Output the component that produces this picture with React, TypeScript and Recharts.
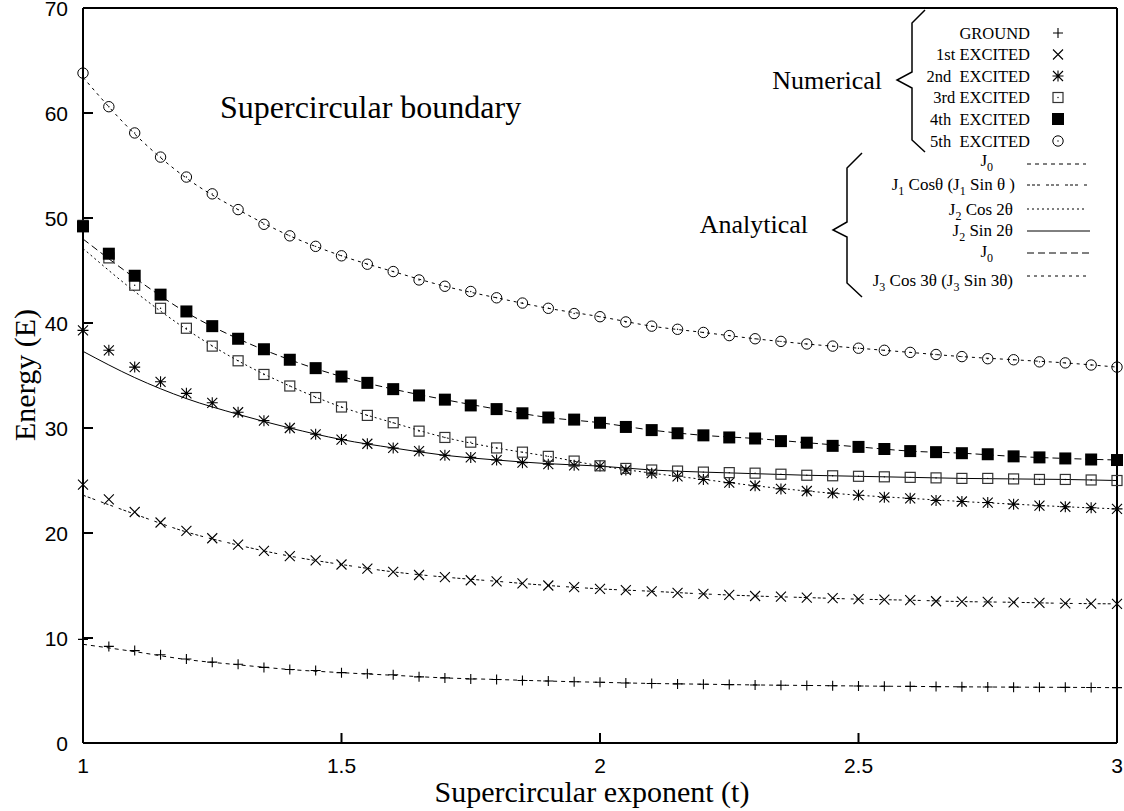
import React from "react";
import { ComposedChart, Line, Scatter, XAxis, YAxis } from "recharts";

// supercircular exponent, numerical samples
const tGrid = [
  1, 1.05, 1.1, 1.15, 1.2, 1.25, 1.3, 1.35, 1.4, 1.45, 1.5, 1.55, 1.6, 1.65, 1.7, 1.75, 1.8, 1.85, 1.9, 1.95, 2,
  2.05, 2.1, 2.15, 2.2, 2.25, 2.3, 2.35, 2.4, 2.45, 2.5, 2.55, 2.6, 2.65, 2.7, 2.75, 2.8, 2.85, 2.9, 2.95, 3,
];

const ground = [
  9.87, 9.2, 8.8, 8.4, 8.0, 7.7, 7.5, 7.2, 7.0, 6.9, 6.7, 6.6, 6.5, 6.3, 6.2, 6.1, 6.05, 5.95, 5.9, 5.83, 5.78,
  5.72, 5.67, 5.63, 5.6, 5.56, 5.53, 5.5, 5.48, 5.45, 5.43, 5.41, 5.39, 5.37, 5.35, 5.34, 5.32, 5.31, 5.3, 5.28, 5.27,
];
const first = [
  24.6, 23.2, 22.0, 21.0, 20.2, 19.5, 18.9, 18.3, 17.8, 17.4, 17.0, 16.6, 16.3, 16.0, 15.8, 15.5, 15.4, 15.2, 15.0,
  14.85, 14.68, 14.55, 14.45, 14.3, 14.2, 14.1, 14.0, 13.95, 13.85, 13.8, 13.7, 13.65, 13.6, 13.5, 13.47, 13.43, 13.4,
  13.35, 13.3, 13.28, 13.25,
];
const second = [
  39.3, 37.4, 35.8, 34.4, 33.3, 32.4, 31.5, 30.7, 30.0, 29.4, 28.9, 28.5, 28.1, 27.8, 27.4, 27.2, 26.95, 26.7, 26.55,
  26.45, 26.37, 26.0, 25.7, 25.4, 25.1, 24.8, 24.5, 24.2, 24.0, 23.8, 23.6, 23.4, 23.3, 23.1, 23.0, 22.9, 22.75, 22.6,
  22.5, 22.4, 22.3,
];
const third = [
  49.3, 46.2, 43.6, 41.4, 39.5, 37.8, 36.4, 35.1, 34.0, 32.9, 32.0, 31.2, 30.5, 29.7, 29.1, 28.65, 28.1, 27.7, 27.3,
  26.85, 26.4, 26.15, 26.0, 25.9, 25.8, 25.75, 25.7, 25.6, 25.5, 25.45, 25.4, 25.35, 25.3, 25.25, 25.2, 25.2, 25.15,
  25.1, 25.1, 25.05, 25.0,
];
const fourth = [
  49.2, 46.6, 44.5, 42.7, 41.1, 39.7, 38.5, 37.5, 36.5, 35.7, 34.9, 34.3, 33.7, 33.1, 32.7, 32.15, 31.8, 31.4, 31.0,
  30.8, 30.5, 30.1, 29.8, 29.5, 29.3, 29.1, 29.0, 28.75, 28.6, 28.3, 28.2, 28.0, 27.8, 27.7, 27.6, 27.5, 27.3, 27.2,
  27.1, 27.0, 26.95,
];
const fifth = [
  63.8, 60.6, 58.1, 55.8, 53.9, 52.3, 50.8, 49.4, 48.3, 47.3, 46.4, 45.6, 44.9, 44.1, 43.5, 43.0, 42.4, 41.9, 41.4,
  40.9, 40.6, 40.1, 39.7, 39.4, 39.1, 38.8, 38.5, 38.25, 38.0, 37.8, 37.6, 37.4, 37.2, 37.0, 36.8, 36.6, 36.5, 36.3,
  36.2, 36.0, 35.8,
];

// analytical curves
const tCurve = [1, 1.1, 1.2, 1.3, 1.4, 1.5, 1.6, 1.7, 1.8, 1.9, 2, 2.1, 2.2, 2.3, 2.4, 2.5, 2.6, 2.7, 2.8, 2.9, 3];
const j0Ground = [9.4, 8.7, 7.95, 7.45, 7.0, 6.7, 6.45, 6.2, 6.05, 5.9, 5.78, 5.67, 5.6, 5.53, 5.48, 5.43, 5.39, 5.35, 5.32, 5.3, 5.27];
const j1 = [23.6, 21.8, 20.1, 18.85, 17.8, 17.0, 16.3, 15.8, 15.4, 15.0, 14.68, 14.45, 14.2, 14.0, 13.85, 13.7, 13.6, 13.47, 13.4, 13.3, 13.25];
const j2Cos = [47.1, 43.0, 39.4, 36.4, 34.0, 32.0, 30.5, 29.1, 28.1, 27.3, 26.4, 25.7, 25.1, 24.5, 24.0, 23.6, 23.3, 23.0, 22.75, 22.5, 22.3];
const j2Sin = [37.3, 34.8, 32.8, 31.3, 30.0, 28.9, 28.1, 27.4, 26.95, 26.6, 26.37, 26.0, 25.8, 25.65, 25.5, 25.4, 25.3, 25.2, 25.15, 25.1, 25.0];
const j0Second = [48.0, 44.3, 41.0, 38.5, 36.5, 34.9, 33.7, 32.7, 31.8, 31.0, 30.5, 29.8, 29.3, 29.0, 28.6, 28.2, 27.8, 27.6, 27.3, 27.1, 26.95];
const j3 = [63.4, 58.0, 53.8, 50.8, 48.3, 46.4, 44.9, 43.5, 42.4, 41.4, 40.6, 39.7, 39.1, 38.5, 38.0, 37.6, 37.2, 36.8, 36.5, 36.2, 35.8];

const xTicks = [1, 1.5, 2, 2.5, 3];
const yTicks = [0, 10, 20, 30, 40, 50, 60, 70];

const SERIF = "'Liberation Serif', 'Times New Roman', serif";
const SANS = "'Liberation Sans', Arial, sans-serif";
const TICK = 10;

const rows = (ts: number[], vs: number[]) => ts.map((t, i) => ({ t, e: vs[i] }));

// point shapes
const PlusMark = ({ cx, cy }: any) => (
  <path d={`M${cx - 5} ${cy}H${cx + 5}M${cx} ${cy - 5}V${cy + 5}`} stroke="#000" strokeWidth={1.1} fill="none" />
);
const CrossMark = ({ cx, cy }: any) => (
  <path
    d={`M${cx - 5} ${cy - 5}L${cx + 5} ${cy + 5}M${cx - 5} ${cy + 5}L${cx + 5} ${cy - 5}`}
    stroke="#000"
    strokeWidth={1.1}
    fill="none"
  />
);
const StarMark = ({ cx, cy }: any) => (
  <path
    d={`M${cx - 5.5} ${cy}H${cx + 5.5}M${cx} ${cy - 5.5}V${cy + 5.5}M${cx - 5} ${cy - 5}L${cx + 5} ${cy + 5}M${cx - 5} ${cy + 5}L${cx + 5} ${cy - 5}`}
    stroke="#000"
    strokeWidth={1.1}
    fill="none"
  />
);
const OpenSquare = ({ cx, cy }: any) => (
  <g>
    <rect x={cx - 5} y={cy - 5} width={10} height={10} stroke="#333" strokeWidth={1.2} fill="none" />
    <circle cx={cx} cy={cy} r={0.7} fill="#000" />
  </g>
);
const FilledSquare = ({ cx, cy }: any) => <rect x={cx - 6} y={cy - 6} width={12} height={12} fill="#000" />;
const OpenCircle = ({ cx, cy }: any) => (
  <g>
    <circle cx={cx} cy={cy} r={5.2} stroke="#000" strokeWidth={1} fill="none" />
    <circle cx={cx} cy={cy} r={0.7} fill="#000" />
  </g>
);

// inward ticks on all four sides
const BottomTick = ({ x, y, payload }: any) => (
  <g>
    <line x1={x} y1={y} x2={x} y2={y - TICK} stroke="#000" strokeWidth={2} />
    <text x={x} y={y + 30} textAnchor="middle" fontFamily={SANS} fontSize={21} fill="#000">
      {payload.value}
    </text>
  </g>
);
const TopTick = ({ x, y }: any) => <line x1={x} y1={y} x2={x} y2={y + TICK} stroke="#000" strokeWidth={2} />;
const LeftTick = ({ x, y, payload }: any) => (
  <g>
    <line x1={x} y1={y} x2={x + TICK} y2={y} stroke="#000" strokeWidth={2} />
    <text x={x - 15} y={y + 7.5} textAnchor="end" fontFamily={SANS} fontSize={21} fill="#000">
      {payload.value}
    </text>
  </g>
);
const RightTick = ({ x, y }: any) => <line x1={x} y1={y} x2={x - TICK} y2={y} stroke="#000" strokeWidth={2} />;

const numericalLegend = [
  { label: "GROUND", Mark: PlusMark },
  { label: "1st EXCITED", Mark: CrossMark },
  { label: "2nd  EXCITED", Mark: StarMark },
  { label: "3rd EXCITED", Mark: OpenSquare },
  { label: "4th  EXCITED", Mark: FilledSquare },
  { label: "5th  EXCITED", Mark: OpenCircle },
];
const numRowY = [33, 54.5, 76, 97.5, 119, 141];

function Sub({ v }: { v: string }) {
  return (
    <>
      <tspan dy={5} fontSize={12}>
        {v}
      </tspan>
      <tspan dy={-5}>{"  "}</tspan>
    </>
  );
}

function Overlay() {
  return (
    <svg
      width={1124}
      height={811}
      style={{ position: "absolute", left: 0, top: 0, pointerEvents: "none" }}
      fontFamily={SERIF}
    >
      <text x={220} y={118} fontSize={32}>
        Supercircular boundary
      </text>
      <text x={592} y={802} fontSize={30} textAnchor="middle">
        Supercircular exponent (t)
      </text>
      <text x={35} y={375} fontSize={30} textAnchor="middle" transform="rotate(-90 35 375)">
        Energy (E)
      </text>

      {/* numerical block */}
      <text x={882} y={89} fontSize={26} textAnchor="end">
        Numerical
      </text>
      <polyline
        points="925,10 912,23 912,72 897,80 912,88 912,140 925,152"
        fill="none"
        stroke="#000"
        strokeWidth={1.5}
      />
      {numericalLegend.map(({ label, Mark }, i) => (
        <g key={label}>
          <text x={1030} y={numRowY[i] + 5.5} fontSize={16.5} textAnchor="end" style={{ whiteSpace: "pre" }}>
            {label}
          </text>
          <Mark cx={1058} cy={numRowY[i]} />
        </g>
      ))}

      {/* analytical block */}
      <text x={808} y={233} fontSize={26} textAnchor="end">
        Analytical
      </text>
      <polyline
        points="862,153 847,168 847,222 833,230 847,237 847,283 862,297"
        fill="none"
        stroke="#000"
        strokeWidth={1.5}
      />
      <g fontSize={17} style={{ whiteSpace: "pre" }}>
        <text x={993} y={166} textAnchor="end">
          J<Sub v="0" />
        </text>
        <text x={1015} y={190} textAnchor="end">
          J<Sub v="1" />Cos{"\u03b8"} (J<Sub v="1" />Sin {"\u03b8"} )
        </text>
        <text x={1013} y={215} textAnchor="end">
          J<Sub v="2" />Cos 2{"\u03b8"}
        </text>
        <text x={1013} y={236} textAnchor="end">
          J<Sub v="2" />Sin  2{"\u03b8"}
        </text>
        <text x={993} y={257} textAnchor="end">
          J<Sub v="0" />
        </text>
        <text x={1013} y={286} textAnchor="end">
          J<Sub v="3" />Cos 3{"\u03b8"} (J<Sub v="3" />Sin  3{"\u03b8"})
        </text>
      </g>
      <g stroke="#000" strokeWidth={1}>
        <line x1={1027} y1={164} x2={1086} y2={164} strokeDasharray="4 4" />
        <line x1={1027} y1={185} x2={1088} y2={185} strokeDasharray="3 2 3 2 3 6" />
        <line x1={1027} y1={209} x2={1087} y2={209} strokeDasharray="2 3" />
        <line x1={1027} y1={231} x2={1090} y2={231} />
        <line x1={1027} y1={253} x2={1090} y2={253} strokeDasharray="7 4" />
        <line x1={1027} y1={276} x2={1087} y2={276} strokeDasharray="3 4" />
      </g>
    </svg>
  );
}

export default function App() {
  const curves = [
    { key: "j0g", data: rows(tCurve, j0Ground), dash: "4 4" },
    { key: "j1", data: rows(tCurve, j1), dash: "3 2 3 2 3 6" },
    { key: "j2c", data: rows(tCurve, j2Cos), dash: "2 3" },
    { key: "j2s", data: rows(tCurve, j2Sin), dash: undefined },
    { key: "j0s", data: rows(tCurve, j0Second), dash: "7 4" },
    { key: "j3", data: rows(tCurve, j3), dash: "3 4" },
  ];
  const points = [
    { key: "g", data: rows(tGrid, ground), shape: PlusMark },
    { key: "e1", data: rows(tGrid, first), shape: CrossMark },
    { key: "e2", data: rows(tGrid, second), shape: StarMark },
    { key: "e3", data: rows(tGrid, third), shape: OpenSquare },
    { key: "e4", data: rows(tGrid, fourth), shape: FilledSquare },
    { key: "e5", data: rows(tGrid, fifth), shape: OpenCircle },
  ];

  const axisLine = { stroke: "#000", strokeWidth: 2 };

  return (
    <div style={{ position: "absolute", left: 0, top: 0, width: 1124, height: 811, background: "#fff" }}>
      <ComposedChart width={1124} height={811} margin={{ top: 7, right: 6, bottom: 28, left: 23 }}>
        <XAxis
          dataKey="t"
          type="number"
          domain={[1, 3]}
          ticks={xTicks}
          interval={0}
          height={40}
          tickSize={0}
          tickMargin={0}
          tickLine={false}
          tick={BottomTick}
          axisLine={axisLine}
        />
        <XAxis
          xAxisId="top"
          orientation="top"
          dataKey="t"
          type="number"
          domain={[1, 3]}
          ticks={xTicks}
          interval={0}
          height={1}
          tickSize={0}
          tickMargin={0}
          tickLine={false}
          tick={TopTick}
          axisLine={axisLine}
        />
        <YAxis
          type="number"
          domain={[0, 70]}
          ticks={yTicks}
          interval={0}
          width={60}
          tickSize={0}
          tickMargin={0}
          tickLine={false}
          tick={LeftTick}
          axisLine={axisLine}
        />
        <YAxis
          yAxisId="right"
          orientation="right"
          type="number"
          domain={[0, 70]}
          ticks={yTicks}
          interval={0}
          width={1}
          tickSize={0}
          tickMargin={0}
          tickLine={false}
          tick={RightTick}
          axisLine={axisLine}
        />
        {curves.map((c) => (
          <Line
            key={c.key}
            data={c.data}
            dataKey="e"
            type="monotone"
            stroke="#000"
            strokeWidth={1}
            strokeDasharray={c.dash}
            dot={false}
            activeDot={false}
            isAnimationActive={false}
          />
        ))}
        {points.map((p) => (
          <Scatter
            key={p.key}
            data={p.data}
            dataKey="e"
            shape={(props: any) => <p.shape cx={props.cx} cy={props.cy} />}
            isAnimationActive={false}
          />
        ))}
      </ComposedChart>
      <Overlay />
    </div>
  );
}
